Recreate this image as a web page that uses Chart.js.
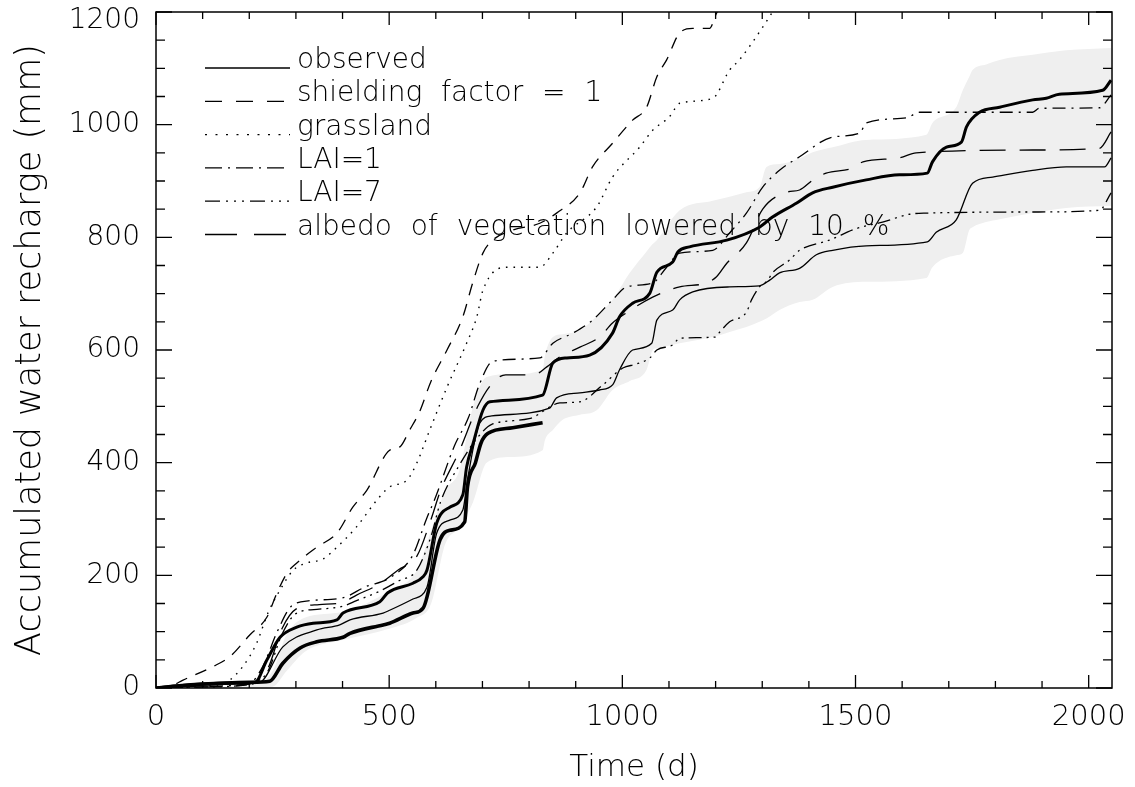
<!DOCTYPE html>
<html>
<head>
<meta charset="utf-8">
<script src="https://cdn.jsdelivr.net/npm/chart.js@4.4.0/dist/chart.umd.min.js"></script>
<style>
  html, body { margin: 0; padding: 0; background: #fff; }
</style>
</head>
<body>
<canvas id="chart" width="1135" height="787"></canvas>
<script>
// tick labels
const xTicks = [0, 500, 1000, 1500, 2000];
const yTicks = [0, 200, 400, 600, 800, 1000, 1200];
const legendLabels = ['observed', 'shielding factor = 1', 'grassland', 'LAI=1', 'LAI=7',
  'albedo of vegetation lowered by 10 %'];

// thick line, full period
const thickADays = [0, 50, 100, 150, 212, 238, 266, 302, 337, 388, 401, 480, 497, 551, 572, 581, 602, 630, 658, 666,
  680, 701, 716, 829, 851, 881, 930, 979, 994, 1022, 1059, 1074, 1108, 1119, 1144, 1224, 1294, 1322, 1374, 1408,
  1451, 1523, 1594, 1654, 1665, 1695, 1727, 1738, 1766, 1809, 1880, 1909, 1937, 2030, 2048];
const thickA = [0, 4, 7, 9, 10, 50, 90, 108, 115, 121, 133, 153, 169, 186, 197, 209, 293, 321, 343, 392,
  434, 493, 508, 520, 577, 586, 591, 630, 659, 683, 701, 738, 756, 774, 783, 795, 818, 836, 861, 879,
  889, 902, 911, 914, 934, 960, 969, 996, 1022, 1031, 1044, 1047, 1054, 1061, 1079];

// thick line, short period
const thickBDays = [0, 50, 100, 150, 200, 244, 272, 309, 345, 401, 416, 487, 501, 551, 573, 609, 630, 662, 668, 685,
  697, 712, 765, 829];
const thickB = [0, 4, 7, 9, 10, 12, 44, 71, 82, 90, 97, 112, 115, 133, 142, 263, 280, 295, 357, 400,
  435, 452, 462, 471];

// observed (thin solid)
const obsDays = [0, 100, 200, 223, 272, 345, 394, 416, 487, 501, 551, 581, 602, 630, 658, 669, 694, 720, 844, 859,
  909, 951, 979, 994, 1022, 1063, 1074, 1108, 1123, 1151, 1230, 1294, 1316, 1337, 1380, 1416, 1451, 1523, 1654, 1673,
  1716, 1751, 1794, 1880, 1952, 2034, 2048];
const obs = [0, 5, 8, 10, 73, 103, 112, 121, 133, 138, 158, 179, 275, 298, 316, 375, 470, 483, 497, 515,
  524, 529, 538, 565, 600, 612, 653, 671, 689, 703, 712, 714, 724, 737, 745, 769, 777, 785, 792, 809,
  831, 896, 907, 919, 925, 925, 941];

// shielding factor = 1
const shieldDays = [0, 30, 58, 122, 159, 201, 238, 259, 281, 302, 345, 388, 422, 452, 501, 523, 544, 565, 590, 624,
  658, 679, 701, 722, 765, 823, 859, 909, 936, 979, 1022, 1052, 1074, 1095, 1123, 1151, 1187, 1202, 1215];
const shield = [0, 3, 14, 38, 56, 94, 126, 168, 204, 222, 250, 275, 321, 351, 422, 428, 458, 490, 545, 600,
  659, 719, 772, 795, 813, 825, 843, 879, 925, 967, 1008, 1031, 1085, 1115, 1163, 1171, 1171, 1198, 1215];

// grassland
const grassDays = [0, 100, 150, 186, 216, 240, 266, 294, 323, 358, 388, 430, 474, 501, 538, 559, 587, 624, 666, 688,
  701, 752, 823, 851, 881, 945, 979, 1037, 1065, 1101, 1123, 1194, 1230, 1251, 1301, 1322, 1335];
const grass = [0, 3, 10, 38, 80, 133, 174, 209, 222, 229, 250, 286, 334, 357, 369, 399, 458, 534, 612, 659,
  706, 747, 747, 772, 808, 854, 907, 960, 990, 1014, 1038, 1047, 1097, 1115, 1173, 1200, 1215];

// LAI=1
const lai1Days = [0, 100, 200, 230, 260, 290, 330, 400, 450, 500, 550, 580, 600, 640, 670, 694, 722, 823, 851, 894,
  936, 979, 1009, 1065, 1095, 1123, 1194, 1230, 1266, 1301, 1337, 1380, 1451, 1509, 1523, 1609, 1637, 1880, 1894, 2023,
  2048];
const lai1 = [0, 3, 8, 40, 100, 145, 155, 160, 180, 195, 235, 300, 340, 430, 480, 540, 580, 586, 612, 630,
  653, 689, 712, 719, 747, 772, 777, 808, 843, 889, 919, 943, 978, 985, 1003, 1012, 1022, 1022, 1029, 1030,
  1053];

// LAI=7
const lai7Days = [0, 100, 200, 240, 270, 300, 350, 400, 430, 480, 520, 560, 590, 610, 650, 690, 720, 800, 866, 909,
  958, 1001, 1030, 1059, 1074, 1108, 1123, 1200, 1209, 1230, 1266, 1277, 1294, 1312, 1322, 1359, 1380, 1444, 1500, 1558,
  1616, 1652, 1880, 2023, 2048];
const lai7 = [0, 2, 6, 30, 95, 132, 140, 145, 155, 172, 190, 210, 270, 330, 395, 445, 468, 478, 506, 508,
  538, 568, 575, 586, 600, 609, 621, 623, 632, 650, 667, 689, 712, 724, 737, 760, 777, 795, 815, 827,
  841, 843, 845, 848, 879];

// albedo of vegetation lowered by 10 %
const albedoDays = [0, 100, 200, 240, 270, 300, 350, 400, 430, 480, 520, 560, 590, 610, 650, 690, 720, 750, 810, 838,
  866, 909, 951, 979, 1009, 1065, 1123, 1180, 1202, 1224, 1266, 1301, 1352, 1380, 1409, 1437, 1494, 1516, 1594, 1630,
  1880, 2023, 2048];
const albedo = [0, 2, 7, 35, 105, 140, 148, 152, 165, 185, 210, 235, 300, 350, 420, 500, 540, 556, 556, 570,
  588, 605, 623, 648, 666, 694, 712, 719, 730, 754, 790, 850, 880, 884, 902, 914, 923, 934, 941, 950,
  955, 958, 987];

// grey uncertainty band
const bandDays = [0, 200, 250, 280, 320, 400, 500, 560, 590, 620, 650, 680, 709, 760, 829, 834, 851, 872, 909, 945,
  979, 1016, 1052, 1065, 1074, 1123, 1194, 1230, 1266, 1294, 1309, 1337, 1380, 1408, 1451, 1523, 1652, 1665, 1716, 1730,
  1744, 1751, 1780, 1809, 1880, 1952, 2048];
const bandHigh = [0, 5, 30, 95, 125, 135, 172, 210, 280, 350, 385, 500, 552, 557, 565, 590, 623, 628, 635, 660,
  689, 737, 775, 788, 795, 848, 865, 872, 880, 889, 925, 930, 940, 951, 960, 973, 982, 1003, 1031, 1061,
  1085, 1097, 1107, 1115, 1124, 1132, 1136];
const bandLow = [0, 0, 2, 30, 65, 85, 105, 125, 150, 255, 285, 330, 400, 410, 422, 440, 458, 476, 485, 493,
  529, 545, 565, 600, 603, 612, 623, 632, 641, 650, 656, 671, 685, 689, 712, 721, 728, 747, 768, 772,
  813, 818, 827, 832, 843, 852, 856];

const FONT = '"DejaVu Sans", sans-serif';
const dashShield = [12, 9];
const dashGrass = [1.6, 6];
const dashLai1 = [13, 6, 2, 6];
const dashLai7 = [13, 5, 2, 5, 2, 5, 2, 5];
const dashAlbedo = [26, 14];
const legendDash = [[], [17, 14], [2, 8.5], [17, 6, 2, 6], [15, 6, 2, 6, 2, 6, 2, 6], [32, 17]];

const pts = (days, vals) => days.map((d, i) => ({ x: d, y: vals[i] }));

function line(label, days, vals, width, dash) {
  return {
    label, data: pts(days, vals), borderColor: '#000', borderWidth: width, borderDash: dash,
    borderCapStyle: 'butt', pointRadius: 0, fill: false, cubicInterpolationMode: 'monotone'
  };
}

// keep the plot box fixed: no extra room for overhanging tick labels
function noOverhang(s) {
  s.paddingTop = 0; s.paddingBottom = 0; s.paddingLeft = 0; s.paddingRight = 0;
}

// top label sits a little below its tick, as in the original
function yLabel(v) {
  return v === yTicks[yTicks.length - 1] ? ['', String(v)] : String(v);
}

// frame, inward ticks and legend like the original plot
const decorations = {
  id: 'decorations',
  beforeDatasetsDraw(chart) {
    const { ctx, chartArea: ca } = chart;
    ctx.save();
    ctx.font = '300 28px ' + FONT;
    ctx.wordSpacing = '10px';
    ctx.fillStyle = '#000';
    ctx.strokeStyle = '#000';
    ctx.lineWidth = 1.3;
    ctx.textBaseline = 'alphabetic';
    legendLabels.forEach((t, i) => {
      const y = ca.top + 56 + i * 33.3;
      ctx.setLineDash(legendDash[i]);
      ctx.beginPath();
      ctx.moveTo(ca.left + 49, y);
      ctx.lineTo(ca.left + 134, y);
      ctx.stroke();
      ctx.setLineDash([]);
      ctx.fillText(t, ca.left + 141, y);
    });
    ctx.restore();
  },
  afterDatasetsDraw(chart) {
    const { ctx, chartArea: ca, scales } = chart;
    ctx.save();
    ctx.strokeStyle = '#000';
    ctx.lineWidth = 1.5;
    ctx.strokeRect(ca.left, ca.top, ca.right - ca.left, ca.bottom - ca.top);
    ctx.lineWidth = 1.3;
    ctx.beginPath();
    for (let v = 0; v <= scales.x.max; v += 100) {
      const px = scales.x.getPixelForValue(v);
      const len = v % 500 === 0 ? 13 : 7;
      ctx.moveTo(px, ca.bottom); ctx.lineTo(px, ca.bottom - len);
      ctx.moveTo(px, ca.top); ctx.lineTo(px, ca.top + len);
    }
    for (let v = 0; v <= scales.y.max; v += 50) {
      const py = scales.y.getPixelForValue(v);
      const len = v % 200 === 0 ? 16 : 9;
      ctx.moveTo(ca.left, py); ctx.lineTo(ca.left + len, py);
      ctx.moveTo(ca.right, py); ctx.lineTo(ca.right - len, py);
    }
    ctx.stroke();
    ctx.restore();
  }
};

Chart.defaults.font.family = FONT;
Chart.defaults.font.weight = '300';
Chart.defaults.color = '#000';

new Chart(document.getElementById('chart'), {
  type: 'line',
  data: {
    datasets: [
      line('observed', obsDays, obs, 1.3, []),
      line('lysimeter A', thickADays, thickA, 3, []),
      line('lysimeter B', thickBDays, thickB, 3.6, []),
      line('shielding factor = 1', shieldDays, shield, 1.3, dashShield),
      line('grassland', grassDays, grass, 1.4, dashGrass),
      line('LAI=1', lai1Days, lai1, 1.3, dashLai1),
      line('LAI=7', lai7Days, lai7, 1.3, dashLai7),
      line('albedo of vegetation lowered by 10 %', albedoDays, albedo, 1.3, dashAlbedo),
      { label: 'band high', data: pts(bandDays, bandHigh), borderColor: 'rgba(0,0,0,0)', borderWidth: 1,
        pointRadius: 0, fill: false, cubicInterpolationMode: 'monotone' },
      { label: 'band low', data: pts(bandDays, bandLow), borderColor: 'rgba(0,0,0,0)', borderWidth: 1,
        backgroundColor: '#efefef', pointRadius: 0, fill: '-1', cubicInterpolationMode: 'monotone' }
    ]
  },
  options: {
    responsive: false,
    animation: false,
    devicePixelRatio: 1,
    layout: { autoPadding: false, padding: { top: 12, right: 23, left: 0, bottom: 0 } },
    plugins: {
      legend: { display: false },
      tooltip: { enabled: false },
      filler: { drawTime: 'beforeDatasetsDraw' }
    },
    scales: {
      x: {
        type: 'linear', min: 0, max: 2050,
        afterBuildTicks: s => { s.ticks = xTicks.map(v => ({ value: v })); },
        afterFit: s => { s.height = 99; noOverhang(s); },
        grid: { display: false, drawTicks: false },
        border: { display: false },
        ticks: { font: { size: 29 }, padding: 12, maxRotation: 0, autoSkip: false, callback: v => String(v) },
        title: { display: true, text: 'Time (d)', font: { size: 31, lineHeight: 1.2 }, padding: { top: 0, bottom: 0 } }
      },
      y: {
        type: 'linear', min: 0, max: 1200,
        afterBuildTicks: s => { s.ticks = yTicks.map(v => ({ value: v })); },
        afterFit: s => { s.width = 156; noOverhang(s); },
        grid: { display: false, drawTicks: false },
        border: { display: false },
        ticks: { font: { size: 28, lineHeight: 0.6 }, padding: 16, autoSkip: false, callback: yLabel },
        title: { display: true, text: 'Accumulated water recharge (mm)', font: { size: 35, lineHeight: 1.2 },
          padding: { top: 10, bottom: 0 } }
      }
    }
  },
  plugins: [decorations]
});
</script>
</body>
</html>
